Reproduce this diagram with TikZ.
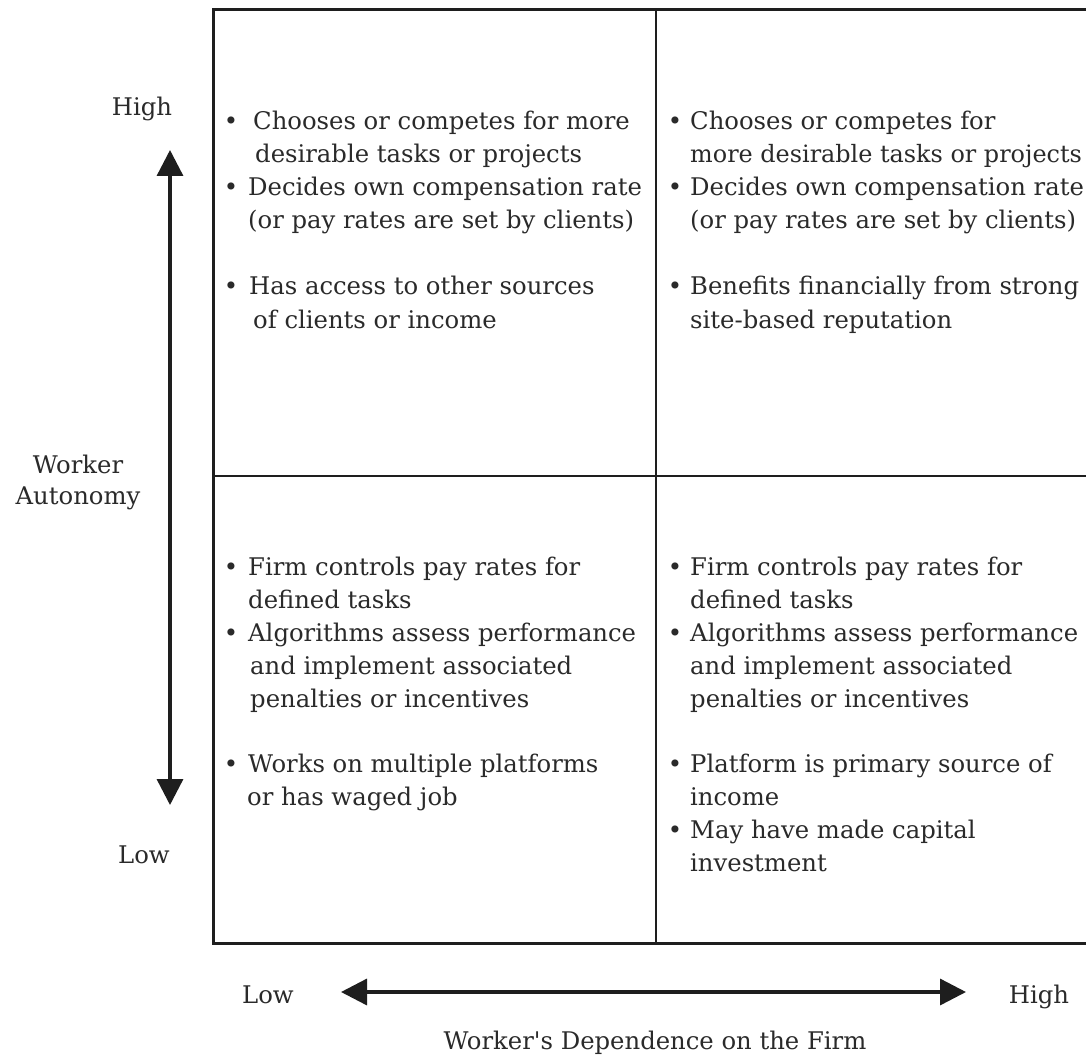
\documentclass[tikz,border=0pt]{standalone}
\usepackage{fontspec}
\setmainfont{DejaVu Serif}
\usetikzlibrary{arrows.meta}
\definecolor{ink}{HTML}{2A2A2A}
\definecolor{rule}{HTML}{1E1E1E}
% straight apostrophe, set as a glyph so the TeX quote mapping leaves it alone
\newcommand\straightquote{{\XeTeXglyph\XeTeXcharglyph"0027\relax}}
\begin{document}
\begin{tikzpicture}[x=1pt,y=-1pt,
  txt/.style={anchor=base west,inner sep=0pt,text=ink,font=\fontsize{24.3}{33}\selectfont},
  bul/.style={anchor=base,inner sep=0pt,text=ink,font=\fontsize{24.3}{33}\selectfont},
  lbl/.style={anchor=base,inner sep=0pt,text=ink,font=\fontsize{24.3}{33}\selectfont},
  frame/.style={draw=rule,line width=3pt},
  divider/.style={draw=rule,line width=1.8pt},
  axis/.style={draw=rule,line width=3.4pt,{Triangle[width=26pt,length=26pt]}-{Triangle[width=26pt,length=26pt]}}]
\useasboundingbox (0,0) rectangle (1086,1056);
\fill[white] (0,0) rectangle (1086,1056);

% quadrant grid
\draw[divider] (656,10) -- (656,943);
\draw[divider] (213,476) -- (1100,476);
\draw[frame] (1100,10) -- (213,10) -- (213,943) -- (1100,943);

% vertical axis: worker autonomy
\coordinate (vtop) at (170,150);
\coordinate (vbot) at (170,805);
\draw[axis] (vtop) -- (vbot);
\node[lbl] (vhigh) at (142,116) {High};
\node[lbl] (vlow) at (144,863) {Low};
\node[text=ink,inner sep=0pt,align=center,font=\fontsize{24.3}{31}\selectfont] (vname) at (78,482) {Worker\\Autonomy};

% horizontal axis: dependence on the firm
\coordinate (hleft) at (341,992);
\coordinate (hright) at (966,992);
\draw[axis] (hleft) -- (hright);
\node[lbl] (hlow) at (268,1003) {Low};
\node[lbl] (hhigh) at (1039,1003) {High};
\node[lbl] (hname) at (655,1049) {Worker\straightquote s Dependence on the Firm};

% top left quadrant
\node[bul] (tlb1) at (231,130) {\textbullet};
\node[txt] (tl1) at (253,130) {Chooses or competes for more};
\node[txt] (tl2) at (255,163) {desirable tasks or projects};
\node[bul] (tlb2) at (231,196) {\textbullet};
\node[txt] (tl3) at (248,196) {Decides own compensation rate};
\node[txt] (tl4) at (248,229) {(or pay rates are set by clients)};
\node[bul] (tlb3) at (231,295) {\textbullet};
\node[txt] (tl5) at (249,295) {Has access to other sources};
\node[txt] (tl6) at (253,328) {of clients or income};

% top right quadrant
\node[bul] (trb1) at (675,130) {\textbullet};
\node[txt] (tr1) at (690,130) {Chooses or competes for};
\node[txt,font=\fontsize{23.9}{33}\selectfont] (tr2) at (690,163) {more desirable tasks or projects};
\node[bul] (trb2) at (675,196) {\textbullet};
\node[txt] (tr3) at (690,196) {Decides own compensation rate};
\node[txt] (tr4) at (690,229) {(or pay rates are set by clients)};
\node[bul] (trb3) at (675,295) {\textbullet};
\node[txt] (tr5) at (690,295) {Benefits financially from strong};
\node[txt] (tr6) at (690,328) {site-based reputation};

% bottom left quadrant
\node[bul] (blb1) at (231,575) {\textbullet};
\node[txt] (bl1) at (248,575) {Firm controls pay rates for};
\node[txt] (bl2) at (248,608) {defined tasks};
\node[bul] (blb2) at (231,641) {\textbullet};
\node[txt] (bl3) at (248,641) {Algorithms assess performance};
\node[txt] (bl4) at (250,674) {and implement associated};
\node[txt] (bl5) at (250,707) {penalties or incentives};
\node[bul] (blb3) at (231,772) {\textbullet};
\node[txt] (bl6) at (248,772) {Works on multiple platforms};
\node[txt] (bl7) at (247,805) {or has waged job};

% bottom right quadrant
\node[bul] (brb1) at (675,575) {\textbullet};
\node[txt] (br1) at (690,575) {Firm controls pay rates for};
\node[txt] (br2) at (690,608) {defined tasks};
\node[bul] (brb2) at (675,641) {\textbullet};
\node[txt] (br3) at (690,641) {Algorithms assess performance};
\node[txt] (br4) at (690,674) {and implement associated};
\node[txt] (br5) at (690,707) {penalties or incentives};
\node[bul] (brb3) at (675,772) {\textbullet};
\node[txt] (br6) at (690,772) {Platform is primary source of};
\node[txt] (br7) at (690,805) {income};
\node[bul] (brb4) at (675,838) {\textbullet};
\node[txt] (br8) at (690,838) {May have made capital};
\node[txt] (br9) at (690,871) {investment};
\end{tikzpicture}
\end{document}
